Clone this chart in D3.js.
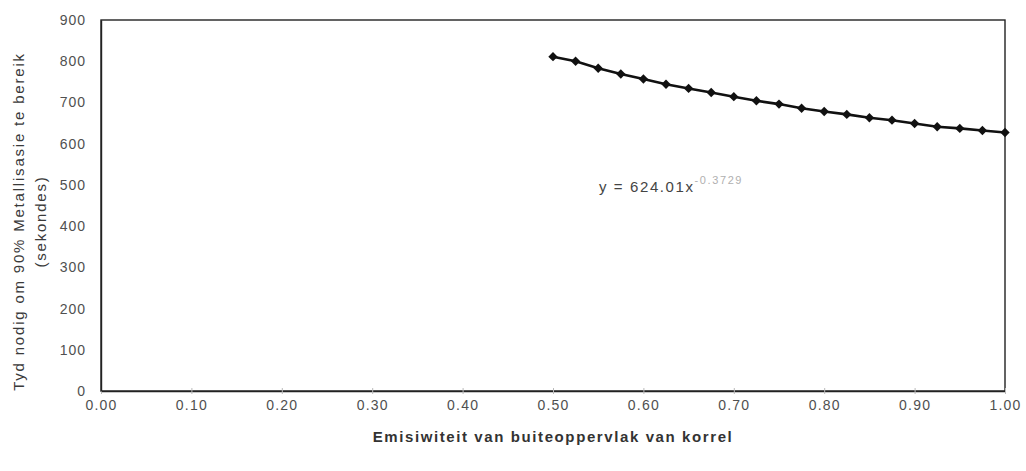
<!DOCTYPE html>
<html>
<head>
<meta charset="utf-8">
<script src="https://cdn.jsdelivr.net/npm/d3@7"></script>
<style>
  html, body { margin: 0; padding: 0; background: #fff; }
  svg { display: block; }
  text { font-family: "Liberation Sans", Arial, sans-serif; }
</style>
</head>
<body>
<svg id="chart" width="1026" height="471"></svg>
<script>
// Emissivity of the pellet's outer surface
const emissivity = [0.500, 0.525, 0.550, 0.575, 0.600, 0.625, 0.650, 0.675, 0.700, 0.725,
                    0.750, 0.775, 0.800, 0.825, 0.850, 0.875, 0.900, 0.925, 0.950, 0.975, 1.000];
// Time needed to reach 90% metallisation (seconds)
const timeSeconds = [811, 800, 783, 769, 757, 744, 734, 724, 714, 704,
                     696, 686, 678, 671, 663, 657, 649, 641, 637, 632, 627];

const xTicks = [0, 0.1, 0.2, 0.3, 0.4, 0.5, 0.6, 0.7, 0.8, 0.9, 1.0];
const yTicks = [0, 100, 200, 300, 400, 500, 600, 700, 800, 900];

const xTitle = "Emisiwiteit van buiteoppervlak van korrel";
const yTitleLines = ["Tyd nodig om 90% Metallisasie te bereik", "(sekondes)"];
const fitLabel = "y = 624.01x";
const fitExponent = "-0.3729";

const svg = d3.select("#chart");
const plot = { left: 101, right: 1005, top: 20, bottom: 391 };

const x = d3.scaleLinear().domain([0, 1]).range([plot.left, plot.right]);
const y = d3.scaleLinear().domain([0, 900]).range([plot.bottom, plot.top]);

const textColor = "#505050";

// Plot area frame
svg.append("rect")
  .attr("x", plot.left).attr("y", plot.top)
  .attr("width", plot.right - plot.left).attr("height", plot.bottom - plot.top)
  .attr("fill", "#fff").attr("stroke", "#222").attr("stroke-width", 1.4);

// X axis
const xAxis = svg.append("g")
  .attr("transform", `translate(0,${plot.bottom})`)
  .call(d3.axisBottom(x).tickValues(xTicks).tickFormat(d3.format(".2f"))
    .tickSizeInner(3).tickSizeOuter(0).tickPadding(6));
xAxis.select(".domain").attr("stroke", "#222").attr("stroke-width", 1.6);
xAxis.selectAll(".tick line").attr("stroke", "#bbb").attr("y1", -3);
xAxis.selectAll(".tick text")
  .attr("fill", textColor).attr("font-size", 14).attr("letter-spacing", 1.2)
  .attr("font-family", "Liberation Sans, Arial, sans-serif");

// Y axis
const yAxis = svg.append("g")
  .attr("transform", `translate(${plot.left},0)`)
  .call(d3.axisLeft(y).tickValues(yTicks).tickFormat(d3.format("d"))
    .tickSize(0).tickPadding(15));
yAxis.select(".domain").attr("stroke", "#222").attr("stroke-width", 1.4);
yAxis.selectAll(".tick text")
  .attr("fill", textColor).attr("font-size", 14).attr("letter-spacing", 1)
  .attr("font-family", "Liberation Sans, Arial, sans-serif");

// Axis titles
svg.append("text")
  .attr("x", (plot.left + plot.right) / 2 ).attr("y", 442)
  .attr("text-anchor", "middle")
  .attr("font-size", 15).attr("font-weight", "bold").attr("letter-spacing", 1.6)
  .attr("fill", "#333")
  .text(xTitle);

const yTitle = svg.append("text")
  .attr("transform", `translate(24,${(plot.top + plot.bottom) / 2 + 16}) rotate(-90)`)
  .attr("text-anchor", "middle")
  .attr("font-size", 15).attr("letter-spacing", 1.8).attr("fill", "#3a3a3a");
yTitleLines.forEach((line, i) => {
  yTitle.append("tspan").attr("x", 0).attr("dy", i === 0 ? 0 : 22).text(line);
});

// Fitted power-law label
const fit = svg.append("text")
  .attr("x", 599).attr("y", 192)
  .attr("font-size", 15).attr("letter-spacing", 1.6).attr("fill", "#444");
fit.append("tspan").text(fitLabel);
fit.append("tspan").attr("dy", -8).attr("font-size", 11).attr("letter-spacing", 1.6)
  .attr("fill", "#b0b0b0").text(fitExponent);

// Data line
const line = d3.line().x((d, i) => x(emissivity[i])).y(d => y(d));
svg.append("path")
  .datum(timeSeconds)
  .attr("d", line)
  .attr("fill", "none").attr("stroke", "#111").attr("stroke-width", 2.6);

// Diamond markers
const diamond = d3.symbol().type(d3.symbolDiamond2).size(56);
svg.append("g").selectAll("path")
  .data(timeSeconds)
  .join("path")
  .attr("transform", (d, i) => `translate(${x(emissivity[i])},${y(d)})`)
  .attr("d", diamond)
  .attr("fill", "#111");
</script>
</body>
</html>
